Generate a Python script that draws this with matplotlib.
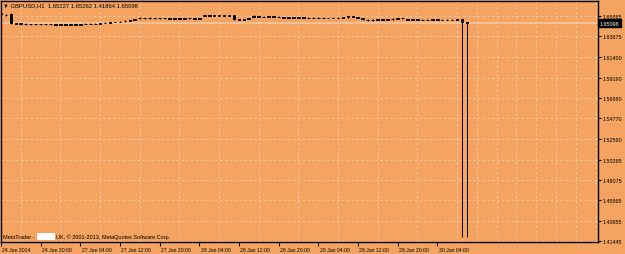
import matplotlib
matplotlib.use("Agg")
import matplotlib.pyplot as plt
import matplotlib.transforms as mtransforms
from matplotlib.patches import Rectangle
import numpy as np

# GBPUSD H1 bars, 24 Jan 2014 12:00 .. 30 Jan 2014 06:00
opens = [
    1.6610, 1.6602, 1.6612, 1.6503, 1.6511, 1.6500, 1.6502, 1.6499, 1.6501, 1.6498,
    1.6500, 1.6503, 1.6491, 1.6497, 1.6494, 1.6499, 1.6495, 1.6501, 1.6503, 1.6500,
    1.6505, 1.6511, 1.6517, 1.6523, 1.6521, 1.6537, 1.6539, 1.6545, 1.6566, 1.6567,
    1.6564, 1.6568, 1.6566, 1.6562, 1.6564, 1.6561, 1.6563, 1.6560, 1.6562, 1.6564,
    1.6561, 1.6588, 1.6598, 1.6593, 1.6595, 1.6591, 1.6594, 1.6598, 1.6553, 1.6548,
    1.6556, 1.6580, 1.6588, 1.6583, 1.6580, 1.6584, 1.6579, 1.6576, 1.6571, 1.6574,
    1.6570, 1.6573, 1.6569, 1.6571, 1.6567, 1.6570, 1.6566, 1.6569, 1.6571, 1.6567,
    1.6574, 1.6586, 1.6577, 1.6566, 1.6548, 1.6546, 1.6549, 1.6553, 1.6548, 1.6555,
    1.6559, 1.6566, 1.6558, 1.6549, 1.6551, 1.6547, 1.6550, 1.6548, 1.6551, 1.6547,
    1.6550, 1.6546, 1.6545, 1.6558, 1.65227]
highs = [
    1.6622, 1.6606, 1.6618, 1.6515, 1.6514, 1.6510, 1.6506, 1.6505, 1.6504, 1.6504,
    1.6503, 1.6506, 1.6500, 1.6501, 1.6501, 1.6502, 1.6503, 1.6507, 1.6508, 1.6507,
    1.6514, 1.6520, 1.6526, 1.6528, 1.6530, 1.6542, 1.6548, 1.6555, 1.6576, 1.6572,
    1.6574, 1.6571, 1.6570, 1.6567, 1.6568, 1.6566, 1.6567, 1.6566, 1.6567, 1.6568,
    1.6570, 1.6601, 1.6600, 1.6599, 1.6598, 1.6602, 1.6598, 1.6602, 1.6557, 1.6560,
    1.6566, 1.6594, 1.6591, 1.6587, 1.6586, 1.6587, 1.6585, 1.6579, 1.6577, 1.6577,
    1.6576, 1.6576, 1.6574, 1.6574, 1.6573, 1.6573, 1.6572, 1.6574, 1.6575, 1.6576,
    1.6590, 1.6589, 1.6580, 1.6569, 1.6555, 1.6554, 1.6561, 1.6556, 1.6555, 1.6563,
    1.6570, 1.6568, 1.6560, 1.6553, 1.6554, 1.6553, 1.6554, 1.6553, 1.6554, 1.6553,
    1.6553, 1.6552, 1.6556, 1.6561, 1.65262]
lows = [
    1.6606, 1.6585, 1.6500, 1.6498, 1.6495, 1.6490, 1.6496, 1.6494, 1.6495, 1.6494,
    1.6493, 1.6488, 1.6487, 1.6490, 1.6491, 1.6492, 1.6492, 1.6497, 1.6498, 1.6497,
    1.6502, 1.6508, 1.6514, 1.6518, 1.6519, 1.6526, 1.6536, 1.6543, 1.6556, 1.6560,
    1.6558, 1.6556, 1.6559, 1.6557, 1.6558, 1.6556, 1.6557, 1.6556, 1.6558, 1.6559,
    1.6558, 1.6586, 1.6588, 1.6589, 1.6587, 1.6586, 1.6588, 1.6550, 1.6540, 1.6545,
    1.6552, 1.6578, 1.6579, 1.6577, 1.6576, 1.6577, 1.6575, 1.6568, 1.6567, 1.6567,
    1.6566, 1.6565, 1.6564, 1.6563, 1.6563, 1.6564, 1.6563, 1.6565, 1.6564, 1.6564,
    1.6572, 1.6577, 1.6564, 1.6549, 1.6536, 1.6535, 1.6547, 1.6544, 1.6545, 1.6548,
    1.6557, 1.6553, 1.6546, 1.6545, 1.6544, 1.6544, 1.6545, 1.6544, 1.6545, 1.6544,
    1.6544, 1.6543, 1.6543, 1.4190, 1.41864]
closes = [
    1.6616, 1.6600, 1.6508, 1.6512, 1.6499, 1.6502, 1.6499, 1.6501, 1.6498, 1.6500,
    1.6497, 1.6491, 1.6497, 1.6494, 1.6499, 1.6495, 1.6501, 1.6503, 1.6500, 1.6505,
    1.6511, 1.6517, 1.6523, 1.6521, 1.6527, 1.6539, 1.6545, 1.6552, 1.6567, 1.6564,
    1.6566, 1.6566, 1.6562, 1.6564, 1.6561, 1.6563, 1.6560, 1.6562, 1.6564, 1.6561,
    1.6567, 1.6598, 1.6593, 1.6595, 1.6591, 1.6594, 1.6592, 1.6555, 1.6548, 1.6556,
    1.6563, 1.6590, 1.6583, 1.6580, 1.6584, 1.6579, 1.6582, 1.6571, 1.6574, 1.6570,
    1.6573, 1.6569, 1.6571, 1.6567, 1.6570, 1.6566, 1.6569, 1.6571, 1.6567, 1.6573,
    1.6586, 1.6581, 1.6568, 1.6553, 1.6546, 1.6544, 1.6558, 1.6548, 1.6551, 1.6557,
    1.6567, 1.6563, 1.6549, 1.6551, 1.6547, 1.6550, 1.6548, 1.6551, 1.6547, 1.6550,
    1.6546, 1.6549, 1.6553, 1.6523, 1.65098]

time_labels = ['24 Jan 2014', '24 Jan 20:00', '27 Jan 04:00', '27 Jan 12:00',
               '27 Jan 20:00', '28 Jan 04:00', '28 Jan 12:00', '28 Jan 20:00',
               '29 Jan 04:00', '29 Jan 12:00', '29 Jan 20:00', '30 Jan 04:00']
price_ticks = [1.65885, 1.63675, 1.61400, 1.59190, 1.56980, 1.54770,
               1.52560, 1.50285, 1.48075, 1.45865, 1.43655, 1.41445]
last_price = 1.65098

BG = '#F4A460'
GRID = '#EFC6A4'
W, H = 625, 255

o = np.array(opens); h = np.array(highs); l = np.array(lows); c = np.array(closes)
x = np.arange(len(c))

fig = plt.figure(figsize=(W / 100, H / 100), dpi=100, facecolor=BG)
ax = fig.add_axes([1 / W, 12 / H, 597 / W, 241 / H], facecolor=BG)

ax.axhline(last_price, color='#F3C8A2', lw=1.2, zorder=1)

ax.vlines(x, l, h, color='black', lw=0.7, zorder=3)
up = c >= o
face = np.where(up, 'white', 'black')
ax.bar(x, np.abs(c - o), bottom=np.minimum(o, c), width=0.55, color=face,
       edgecolor='black', linewidth=0.7, zorder=4)

ax.set_xlim(0.1, 120.45)
ax.set_ylim(1.41336, 1.67514)

ax.set_xticks(np.arange(0, len(time_labels) * 8, 8))
ax.set_xticklabels(time_labels)
ax.set_xticks(np.arange(0, 121, 4), minor=True)
ax.set_yticks(price_ticks)
ax.set_yticklabels(['%.5f' % v for v in price_ticks])
ax.yaxis.tick_right()

fnt = ['Liberation Sans', 'DejaVu Sans']
ax.tick_params(axis='x', which='major', length=3, width=0.8, direction='out',
               pad=0.5, labelsize=3.7, colors='black')
ax.tick_params(axis='x', which='minor', length=0)
ax.tick_params(axis='y', length=2, width=0.8, direction='out', pad=1,
               labelsize=3.9, colors='black')
offset = mtransforms.ScaledTranslation(1.5 / 100, 0, fig.dpi_scale_trans)
for lab in ax.get_xticklabels():
    lab.set_ha('left')
    lab.set_family(fnt)
    lab.set_transform(lab.get_transform() + offset)
for lab in ax.get_yticklabels():
    lab.set_family(fnt)

ax.grid(True, axis='x', which='minor', color=GRID, lw=0.7, ls=(0, (2.5, 2.5)), zorder=0)
ax.grid(True, axis='y', which='major', color=GRID, lw=0.7, ls=(0, (2.5, 2.5)), zorder=0)
ax.set_axisbelow(True)
for s in ax.spines.values():
    s.set_color('black')
    s.set_linewidth(1)

ax.text(1.003, last_price, '%.5f' % last_price, transform=ax.get_yaxis_transform(),
        ha='left', va='center', color='white', fontsize=3.9, family=fnt,
        bbox=dict(boxstyle='square,pad=0.25', fc='black', ec='black'))

fig.text(3 / W, 1 - 5.5 / H, '\u25bc GBPUSD,H1  1.65227 1.65262 1.41864 1.65098',
         ha='left', va='center', fontsize=4.2, family=fnt, color='black')

fig.text(3 / W, 1 - 237.5 / H, 'MetaTrader -', ha='left', va='center',
         fontsize=4.0, family=fnt, color='black')
fig.patches.append(Rectangle((37 / W, 1 - 240.5 / H), 18 / W, 7 / H,
                             transform=fig.transFigure, fc='white', ec='none'))
fig.text(56 / W, 1 - 237.5 / H, 'UK, \u00a9 2001-2013, MetaQuotes Software Corp.',
         ha='left', va='center', fontsize=4.0, family=fnt, color='black')

fig.savefig('out.png', dpi=100, facecolor=BG)
